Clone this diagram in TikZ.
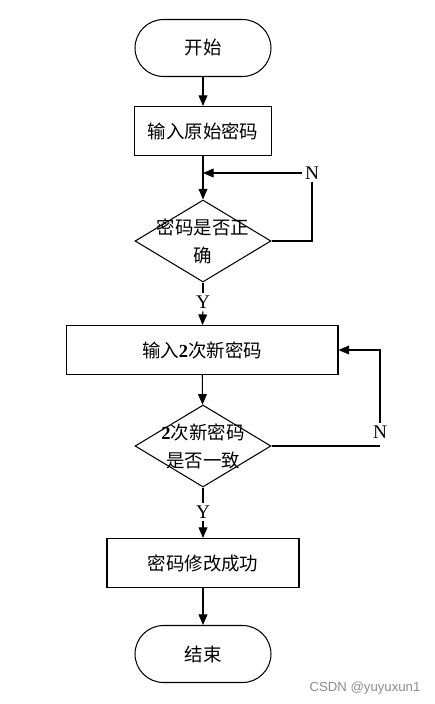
\documentclass[tikz,border=0pt]{standalone}
\usepackage{fontspec}
\setmainfont{Liberation Serif}
\newfontfamily\cjk{Noto Sans CJK SC}
\newfontfamily\wmfont{Liberation Sans}
\usetikzlibrary{shapes.geometric,arrows.meta}

\begin{document}
\begin{tikzpicture}[x=0.02cm, y=-0.02cm,
    every node/.style={font=\fontsize{10.5}{16}\selectfont\cjk},
    term/.style={draw, rectangle, rounded corners=0.57cm, minimum width=2.72cm, minimum height=1.14cm, line width=0.6pt},
    proc/.style={draw, rectangle, minimum height=0.98cm, line width=0.6pt},
    decide/.style={draw, diamond, minimum width=2.72cm, minimum height=1.64cm, inner sep=0pt, line width=0.6pt},
    yn/.style={font=\fontsize{11}{13}\selectfont\rmfamily, inner sep=1.5pt},
    arr/.style={-{Triangle[length=6pt,width=5pt]}, line width=0.6pt},
    ln/.style={line width=0.6pt}]
\useasboundingbox (0,0) rectangle (435,704);

% Nodes
\node[term] (start) at (203,48) {开始};
\node[proc, minimum width=2.74cm] (b1) at (203,131) {输入原始密码};
\node[decide, label={[align=center]center:密码是否正\\确}] (d1) at (203,241) {};
\node[proc, minimum width=5.44cm] (b2) at (202,350) {输入{\rmfamily\bfseries 2}次新密码};
\node[decide, label={[align=center]center:{\rmfamily\bfseries 2}次新密码\\是否一致}] (d2) at (203,446) {};
\node[proc, minimum width=3.84cm] (b3) at (203,563) {密码修改成功};
\node[term] (stop) at (203,654) {结束};

% Labels
\node[yn] (n1) at (312,173) {N};
\node[yn] (y1) at (203,302) {Y};
\node[yn] (n2) at (380,432) {N};
\node[yn] (y2) at (203,512) {Y};

% Connectors
\draw[arr] (start) -- (b1);
\draw[arr] (b1) -- (d1);
\draw[ln] (d1.east) -| (n1.south);
\draw[arr] (n1.west) -- (n1 -| b1);
\draw[ln] (d1.south) -- (y1);
\draw[arr] (y1) -- (b2);
\draw[arr] (b2) -- (d2);
\draw[ln] (d2.east) -- (d2.east -| n2);
\draw[arr] (n2.north) |- (b2.east);
\draw[ln] (d2.south) -- (y2);
\draw[arr] (y2) -- (b3);
\draw[arr] (b3) -- (stop);

% Watermark
\node[font=\fontsize{7.5}{9}\selectfont\wmfont, text=black!45] (wm) at (365,688) {CSDN @yuyuxun1};

\end{tikzpicture}
\end{document}
